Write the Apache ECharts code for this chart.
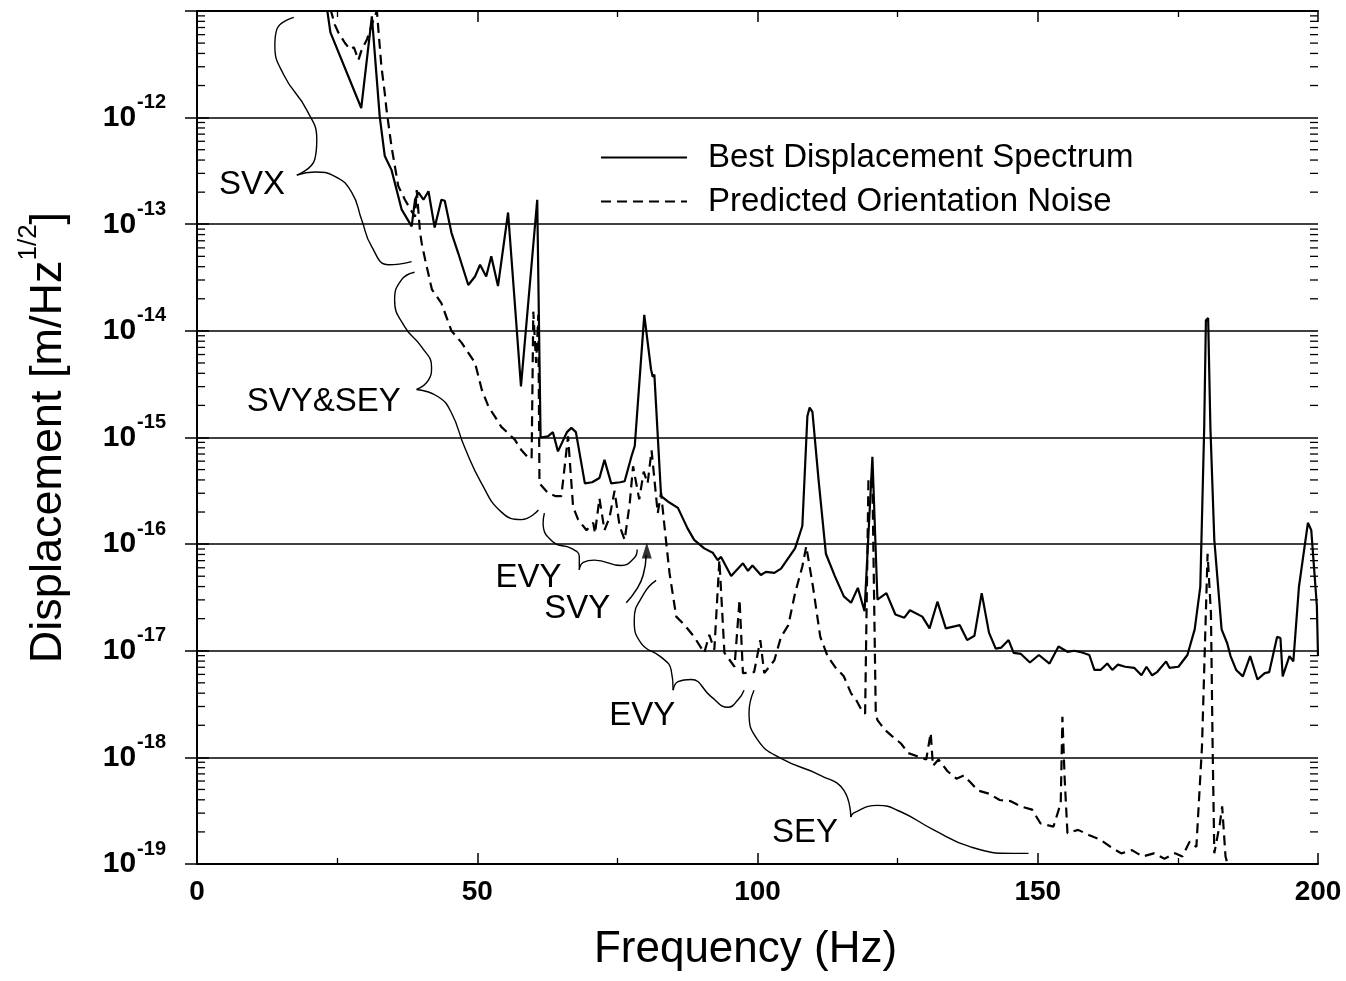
<!DOCTYPE html>
<html>
<head>
<meta charset="utf-8">
<title>Displacement Spectrum</title>
<script src="https://cdn.jsdelivr.net/npm/echarts@6/dist/echarts.min.js"></script>
<style>
  html, body { margin: 0; padding: 0; background: #fff; }
  #chart { width: 1346px; height: 981px; }
</style>
</head>
<body>
<div id="chart"></div>
<script>
// spectra: [frequency (Hz), log10 displacement]
const bestSpectrum = [
  [23.2, -10.98], [23.8, -11.2], [29.3, -11.91], [31.2, -11.05], [32.6, -11.99], [33.5, -12.36],
  [34.7, -12.49], [36.5, -12.86], [38.3, -13.02], [38.9, -12.77], [39.5, -12.70], [40.4, -12.77],
  [41.3, -12.69], [42.4, -13.03], [43.6, -12.77], [44.2, -12.78], [45.4, -13.08], [46.6, -13.27],
  [48.4, -13.57], [49.6, -13.49], [50.5, -13.38], [51.6, -13.49], [52.5, -13.30], [53.7, -13.58],
  [55.5, -12.89], [57.8, -14.52], [60.7, -12.77], [61.3, -15.0], [62.6, -14.99], [63.5, -14.95],
  [64.4, -15.13], [66.0, -14.95], [66.8, -14.91], [67.6, -14.95], [69.2, -15.43], [70.5, -15.42],
  [71.8, -15.38], [72.7, -15.21], [73.9, -15.43], [75.5, -15.42], [76.3, -15.41], [77.5, -15.18],
  [78.1, -15.08], [79.8, -13.85], [81.0, -14.36], [81.3, -14.43], [81.6, -14.41], [82.8, -15.55],
  [84.0, -15.60], [85.8, -15.66], [87.5, -15.85], [88.7, -15.96], [90.5, -16.04], [92.0, -16.08],
  [92.9, -16.15], [93.5, -16.12], [95.3, -16.30], [97.4, -16.18], [98.3, -16.25], [99.1, -16.20],
  [100.6, -16.29], [101.5, -16.26], [103.0, -16.27], [104.2, -16.23], [106.7, -16.04], [108.0, -15.83],
  [108.9, -14.80], [109.3, -14.72], [109.8, -14.76], [110.9, -15.40], [112.2, -16.09], [113.8, -16.30],
  [115.4, -16.49], [116.7, -16.55], [117.9, -16.41], [119.1, -16.63], [120.5, -15.18], [121.4, -16.52],
  [123.0, -16.46], [124.6, -16.66], [126.2, -16.69], [127.2, -16.62], [129.4, -16.68], [130.7, -16.79],
  [132.1, -16.54], [133.6, -16.79], [136.1, -16.76], [137.4, -16.90], [138.7, -16.86], [140.0, -16.46],
  [141.3, -16.83], [142.5, -16.98], [143.5, -16.97], [144.8, -16.90], [145.7, -17.02], [147.0, -17.03],
  [148.6, -17.11], [150.2, -17.04], [152.1, -17.12], [153.7, -16.96], [155.3, -17.01], [156.5, -17.0],
  [157.5, -17.01], [159.2, -17.04], [160.1, -17.18], [161.2, -17.18], [162.4, -17.12], [163.3, -17.18],
  [164.3, -17.13], [165.6, -17.15], [167.2, -17.16], [168.5, -17.23], [169.4, -17.15], [170.4, -17.23],
  [171.3, -17.20], [172.9, -17.10], [173.5, -17.16], [175.1, -17.15], [176.7, -17.04], [178.0, -16.80],
  [179.0, -16.40], [179.7, -14.9], [180.0, -13.9], [180.4, -13.88], [180.8, -14.9], [181.5, -15.96],
  [182.8, -16.80], [183.8, -16.93], [184.4, -17.05], [185.4, -17.18], [186.6, -17.24], [187.9, -17.05],
  [189.2, -17.27], [190.5, -17.21], [191.3, -17.20], [192.7, -16.87], [193.3, -16.88], [193.7, -17.24],
  [194.9, -17.05], [195.6, -17.10], [196.6, -16.40], [198.2, -15.80], [198.8, -15.87], [199.8, -16.58],
  [200.0, -17.05]
];

const orientationNoise = [
  [23.8, -10.98], [24.6, -11.13], [25.2, -11.2], [25.8, -11.25], [26.4, -11.30], [27.3, -11.36],
  [28.0, -11.34], [28.8, -11.46], [29.4, -11.36], [30.3, -11.27], [31.5, -11.08], [32.1, -11.0],
  [32.4, -11.2], [32.9, -11.52], [33.5, -11.77], [33.8, -11.92], [34.7, -12.27], [35.9, -12.64],
  [37.1, -12.77], [38.3, -12.88], [38.9, -12.93], [39.2, -12.68], [39.8, -13.08], [40.1, -13.18],
  [40.7, -13.33], [41.9, -13.61], [43.6, -13.74], [45.4, -14.0], [47.2, -14.11], [49.6, -14.30],
  [50.8, -14.55], [52.0, -14.71], [53.1, -14.80], [54.3, -14.90], [55.5, -14.96], [56.7, -15.02],
  [57.9, -15.12], [59.1, -15.19], [59.7, -15.2], [60.0, -13.82], [60.5, -14.3], [60.9, -13.85],
  [61.1, -15.43], [62.6, -15.52], [64.0, -15.55], [65.0, -15.55], [66.2, -14.99], [67.1, -15.65],
  [68.0, -15.77], [69.5, -15.87], [70.7, -15.80], [71.0, -15.90], [71.8, -15.57], [72.7, -15.87],
  [73.6, -15.75], [74.5, -15.50], [75.4, -15.83], [76.3, -15.96], [77.2, -15.62], [77.8, -15.27],
  [78.9, -15.58], [79.7, -15.32], [80.4, -15.43], [81.1, -15.12], [82.2, -15.71], [82.8, -15.52],
  [83.4, -15.83], [84.3, -16.27], [85.5, -16.68], [87.0, -16.76], [88.7, -16.87], [90.5, -17.02],
  [91.4, -16.85], [92.3, -16.99], [93.2, -16.15], [94.1, -17.02], [95.9, -17.15], [96.8, -16.52],
  [97.4, -17.21], [99.4, -17.20], [100.5, -16.90], [101.2, -17.21], [103.0, -17.09], [104.2, -16.87],
  [105.5, -16.76], [106.7, -16.46], [108.0, -16.21], [108.7, -16.02], [109.9, -16.40], [111.2, -16.87],
  [112.5, -17.05], [113.8, -17.15], [115.4, -17.24], [116.7, -17.40], [117.6, -17.46], [118.6, -17.56],
  [119.2, -17.59], [119.8, -15.37], [120.5, -15.40], [121.1, -17.59], [121.4, -17.65], [122.7, -17.74],
  [124.0, -17.80], [125.6, -17.87], [126.9, -17.96], [128.5, -17.99], [130.1, -18.02], [130.9, -17.77],
  [131.3, -18.08], [132.3, -18.02], [133.9, -18.13], [135.5, -18.20], [136.8, -18.17], [138.1, -18.24],
  [139.3, -18.31], [141.3, -18.34], [143.2, -18.40], [145.1, -18.41], [147.0, -18.46], [149.0, -18.49],
  [150.5, -18.62], [152.8, -18.65], [154.1, -18.43], [154.4, -17.62], [154.8, -18.2], [155.3, -18.71],
  [157.2, -18.68], [159.2, -18.73], [161.1, -18.77], [163.0, -18.84], [164.9, -18.90], [166.8, -18.87],
  [168.7, -18.93], [170.7, -18.90], [172.6, -18.95], [174.5, -18.90], [175.8, -18.93], [177.1, -18.79],
  [178.3, -18.84], [179.3, -17.90], [180.3, -16.09], [180.9, -16.65], [181.2, -17.9], [181.5, -18.90],
  [182.5, -18.62], [182.9, -18.46], [183.5, -18.93], [184.4, -19.1]
];

const seriesNames = ['Best Displacement Spectrum', 'Predicted Orientation Noise'];
const xTicks = [0, 50, 100, 150, 200];
const decades = [-19, -18, -17, -16, -15, -14, -13, -12, -11];

// hand-drawn braces of the figure, each as two arms meeting at the tip
const braces = [
  [[[17.27, -11.06], [14.25, -11.17], [13.89, -11.32], [15.49, -11.60], [19.59, -11.93], [21.37, -12.21], [21.02, -12.39], [17.81, -12.54]],
   [[17.81, -12.54], [21.02, -12.51], [24.58, -12.55], [27.60, -12.70], [29.39, -12.96], [31.17, -13.21], [34.19, -13.38], [38.29, -13.35]]],
  [[[38.82, -13.45], [36.51, -13.52], [35.26, -13.71], [37.04, -13.96], [40.07, -14.15], [41.85, -14.34], [41.32, -14.46], [39.18, -14.55]],
   [[39.18, -14.55], [43.10, -14.62], [45.41, -14.77], [47.73, -15.09], [50.76, -15.43], [54.32, -15.70], [57.88, -15.77], [60.91, -15.68]]],
  [[[61.98, -15.71], [61.75, -15.80], [63.53, -15.98], [66.79, -16.04], [68.21, -16.12], [68.21, -16.24]],
   [[68.21, -16.24], [68.92, -16.17], [70.88, -16.15], [75.69, -16.20], [78.0, -16.13], [78.54, -16.05]]],
  [[[81.92, -16.34], [79.79, -16.46], [78.01, -16.71], [79.25, -16.93], [82.81, -17.06], [84.59, -17.18], [84.95, -17.37]],
   [[84.95, -17.37], [85.84, -17.29], [88.16, -17.27], [91.72, -17.43], [94.75, -17.53], [96.53, -17.46], [97.60, -17.37]]],
  [[[99.38, -17.37], [98.49, -17.58], [100.09, -17.84], [104.19, -18.01], [111.31, -18.17], [115.41, -18.31], [116.65, -18.56]],
   [[116.65, -18.56], [117.19, -18.52], [121.46, -18.45], [125.56, -18.51], [131.43, -18.68], [138.02, -18.84], [145.68, -18.90], [148.35, -18.90]]]
];
const svyArrow = [[76.58, -16.55], [78.36, -16.43], [79.61, -16.29], [80.14, -16.10]];
const svyArrowHead = [80.25, -16.06];

const annoLabels = [
  ['SVX', 9.8, -12.63],
  ['SVY&SEY', 22.6, -14.665],
  ['EVY', 59.13, -16.317],
  ['SVY', 67.85, -16.608],
  ['EVY', 79.43, -17.612],
  ['SEY', 108.46, -18.71]
];

const FONT = '"Liberation Sans", Arial, Helvetica, sans-serif';
const toPoint = p => [p[0], Math.pow(10, p[1])];

const minorTickValues = [];
decades.slice(0, -1).forEach(d => {
  for (let k = 2; k <= 9; k++) minorTickValues.push(k * Math.pow(10, d));
});

const chart = echarts.init(document.getElementById('chart'));

const annotationSeries = [];
braces.forEach(brace => {
  brace.forEach(arm => {
    annotationSeries.push({
      type: 'line',
      data: arm.map(toPoint),
      smooth: 0.5,
      symbol: 'none',
      silent: true,
      lineStyle: { color: '#000', width: 1.4 },
      z: 3
    });
  });
});
annotationSeries.push({
  type: 'line',
  data: svyArrow.map(toPoint),
  smooth: 0.5,
  symbol: 'none',
  silent: true,
  lineStyle: { color: '#000', width: 1.5 },
  z: 3
});

const xAxisBase = {
  type: 'value',
  min: 0,
  max: 200,
  interval: 50,
  axisLine: { show: true, onZero: false, lineStyle: { color: '#000', width: 2 } },
  axisTick: { inside: true, length: 11, lineStyle: { color: '#000', width: 1.5 } },
  minorTick: { show: true, splitNumber: 2, length: 6, lineStyle: { color: '#000', width: 1.3 } },
  splitLine: { show: false }
};

const yAxisBase = {
  type: 'log',
  logBase: 10,
  min: 1e-19,
  max: 1e-11,
  splitNumber: 8,
  axisLine: { show: true, lineStyle: { color: '#000', width: 2 } },
  axisTick: { inside: true, length: 12, lineStyle: { color: '#000', width: 1.5 } }
};

const option = {
  animation: false,
  backgroundColor: '#fff',
  grid: { left: 197, right: 28, top: 11, bottom: 117, containLabel: false },
  legend: {
    data: seriesNames,
    orient: 'vertical',
    left: 595,
    top: 136,
    itemWidth: 86,
    itemHeight: 14,
    itemGap: 11,
    selectedMode: false,
    itemStyle: { opacity: 0 },
    textStyle: { fontSize: 33, color: '#000', fontFamily: FONT, padding: [0, 0, 0, 16] }
  },
  xAxis: [
    Object.assign({}, xAxisBase, {
      position: 'bottom',
      axisLabel: {
        fontSize: 28, fontWeight: 'bold', color: '#000', margin: 14, fontFamily: FONT,
        formatter: v => (xTicks.indexOf(v) >= 0 ? String(v) : '')
      },
      name: 'Frequency (Hz)',
      nameLocation: 'middle',
      nameGap: 64,
      nameTextStyle: { fontSize: 44, color: '#000', fontFamily: FONT, padding: [0, 24, 0, 0] }
    }),
    Object.assign({}, xAxisBase, { position: 'top', axisLabel: { show: false } })
  ],
  yAxis: [
    Object.assign({}, yAxisBase, {
      position: 'left',
      splitLine: { show: true, lineStyle: { color: '#000', width: 1.7 } },
      axisLabel: {
        margin: 31,
        formatter: v => {
          const e = Math.round(Math.log10(v));
          if (e > -12) return '';
          return '{a|10}{b|' + e + '}';
        },
        rich: {
          a: { fontSize: 30, lineHeight: 30, fontWeight: 'bold', color: '#000', fontFamily: FONT },
          b: { fontSize: 20, lineHeight: 20, fontWeight: 'bold', color: '#000', fontFamily: FONT, padding: [0, 0, 30, 1] }
        }
      },
      name: '{n|Displacement [m/Hz}{s|1/2}{n|]}',
      nameLocation: 'middle',
      nameRotate: 90,
      nameGap: 126,
      nameTextStyle: {
        rich: {
          n: { fontSize: 45, lineHeight: 45, color: '#000', fontFamily: FONT },
          s: { fontSize: 26, lineHeight: 26, color: '#000', fontFamily: FONT, padding: [0, 0, 40, 0] }
        }
      }
    }),
    Object.assign({}, yAxisBase, {
      position: 'right',
      splitLine: { show: false },
      axisLabel: { show: false }
    })
  ],
  series: [
    {
      name: seriesNames[0],
      type: 'line',
      data: bestSpectrum.map(toPoint),
      symbol: 'none',
      lineStyle: { color: '#000', width: 2.2 },
      itemStyle: { color: '#000' },
      z: 5
    },
    {
      name: seriesNames[1],
      type: 'line',
      data: orientationNoise.map(toPoint),
      symbol: 'none',
      lineStyle: { color: '#000', width: 2.2, type: [10, 6] },
      itemStyle: { color: '#000' },
      z: 4
    },
    ...annotationSeries,
    {
      type: 'scatter',
      data: [toPoint(svyArrowHead)],
      symbol: 'triangle',
      symbolSize: [10, 16],
      itemStyle: { color: '#000' },
      silent: true,
      z: 6
    },
    {
      type: 'custom',
      silent: true,
      data: minorTickValues.map(v => [0, v]),
      renderItem: (params, api) => {
        const y = api.coord([0, api.value(1)])[1];
        const cs = params.coordSys;
        const st = { stroke: '#000', lineWidth: 1.3 };
        return {
          type: 'group',
          children: [
            { type: 'line', shape: { x1: cs.x, y1: y, x2: cs.x + 8, y2: y }, style: st },
            { type: 'line', shape: { x1: cs.x + cs.width - 8, y1: y, x2: cs.x + cs.width, y2: y }, style: st }
          ]
        };
      },
      z: 2
    }
  ]
};

chart.setOption(option);

// annotation texts, placed at data positions
chart.setOption({
  graphic: annoLabels.map(l => {
    const p = chart.convertToPixel({ xAxisIndex: 0, yAxisIndex: 0 }, [l[1], Math.pow(10, l[2])]);
    return {
      type: 'text',
      x: p[0],
      y: p[1],
      z: 10,
      silent: true,
      style: {
        text: l[0],
        fill: '#000',
        font: '33px ' + FONT,
        textAlign: 'center',
        textVerticalAlign: 'middle'
      }
    };
  })
});
</script>
</body>
</html>
